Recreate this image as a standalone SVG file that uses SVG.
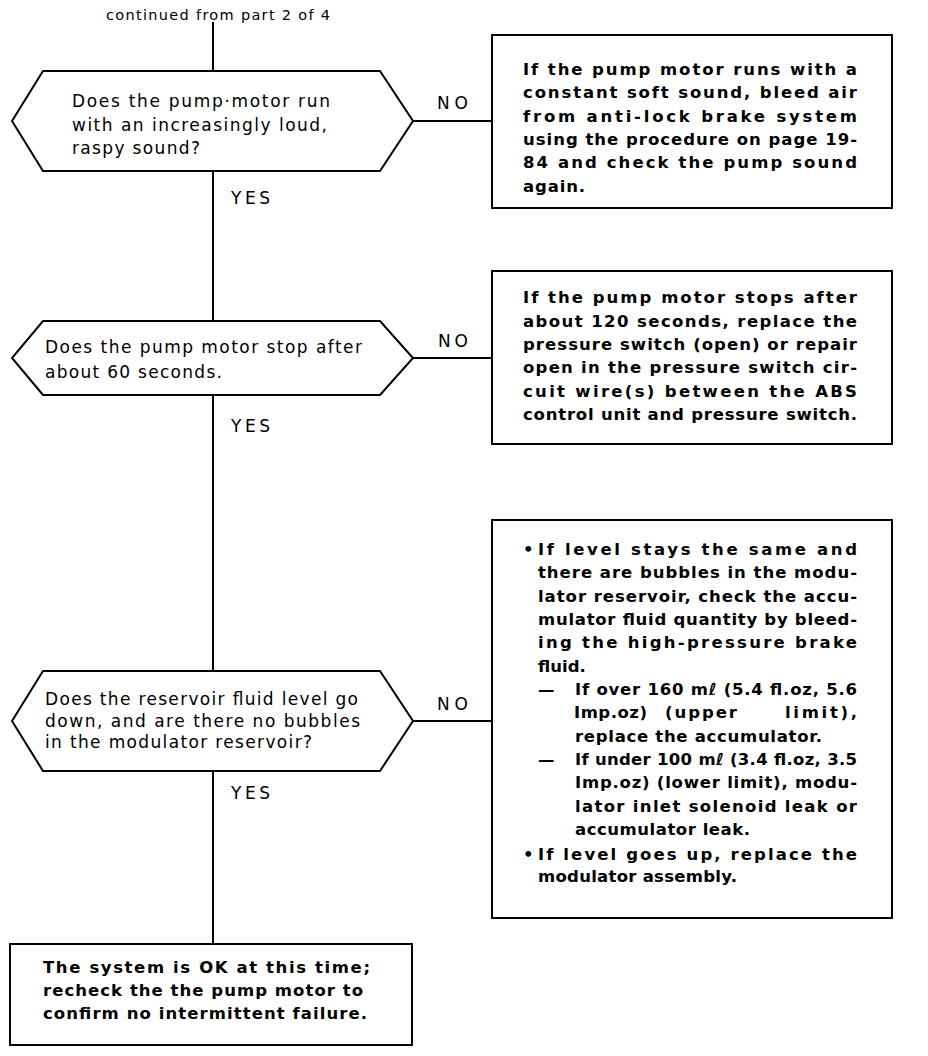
<svg xmlns="http://www.w3.org/2000/svg" width="928" height="1056" viewBox="0 0 928 1056">
<style>
.shape{fill:#fff;stroke:#000;stroke-width:2}
.conn{stroke:#000;stroke-width:2;fill:none}
.q{font-family:"DejaVu Sans","Liberation Sans",Arial,sans-serif;font-size:17px;fill:#000}
.b{font-family:"DejaVu Sans","Liberation Sans",Arial,sans-serif;font-size:16.5px;font-weight:bold;fill:#000}
.lbl{font-family:"DejaVu Sans","Liberation Sans",Arial,sans-serif;font-size:17px;fill:#000}
.sm{font-family:"DejaVu Sans","Liberation Sans",Arial,sans-serif;font-size:14.5px;fill:#000}
</style>
<rect width="928" height="1056" fill="#fff"/>
<g id="connectors">
<line class="conn" x1="213" y1="22" x2="213" y2="71"/>
<line class="conn" x1="213" y1="171" x2="213" y2="321"/>
<line class="conn" x1="213" y1="395" x2="213" y2="671"/>
<line class="conn" x1="213" y1="771" x2="213" y2="944"/>
<line class="conn" x1="413" y1="121" x2="492" y2="121"/>
<line class="conn" x1="413" y1="358" x2="492" y2="358"/>
<line class="conn" x1="413" y1="721" x2="492" y2="721"/>
<text class="sm" x="106" y="20" textLength="224" lengthAdjust="spacing">continued from part 2 of 4</text>
<text class="lbl" x="437" y="109" textLength="31" lengthAdjust="spacing">NO</text>
<text class="lbl" x="438" y="347" textLength="30" lengthAdjust="spacing">NO</text>
<text class="lbl" x="437" y="710" textLength="31" lengthAdjust="spacing">NO</text>
<text class="lbl" x="231" y="204" textLength="39" lengthAdjust="spacing">YES</text>
<text class="lbl" x="231" y="432" textLength="39" lengthAdjust="spacing">YES</text>
<text class="lbl" x="231" y="799" textLength="39" lengthAdjust="spacing">YES</text>
</g>
<g id="q1">
<polygon class="shape" points="43,71 380,71 413,121 380,171 43,171 12,121"/>
<text class="q" x="72" y="107" textLength="258" lengthAdjust="spacing">Does the pump·motor run</text>
<text class="q" x="72" y="131" textLength="255" lengthAdjust="spacing">with an increasingly loud,</text>
<text class="q" x="72" y="154" textLength="128" lengthAdjust="spacing">raspy sound?</text>
</g>
<g id="a1">
<rect class="shape" x="492" y="35" width="400" height="173"/>
<text class="b" x="523" y="75" textLength="334" lengthAdjust="spacing">If the pump motor runs with a</text>
<text class="b" x="523" y="98" textLength="334" lengthAdjust="spacing">constant soft sound, bleed air</text>
<text class="b" x="523" y="121.5" textLength="334" lengthAdjust="spacing">from anti-lock brake system</text>
<text class="b" x="523" y="145" textLength="334" lengthAdjust="spacing">using the procedure on page 19-</text>
<text class="b" x="523" y="168" textLength="334" lengthAdjust="spacing">84 and check the pump sound</text>
<text class="b" x="523" y="192" textLength="62" lengthAdjust="spacing">again.</text>
</g>
<g id="q2">
<polygon class="shape" points="43,321 380,321 413,358 380,395 43,395 12,358"/>
<text class="q" x="45" y="353" textLength="317" lengthAdjust="spacing">Does the pump motor stop after</text>
<text class="q" x="45" y="378" textLength="177" lengthAdjust="spacing">about 60 seconds.</text>
</g>
<g id="a2">
<rect class="shape" x="492" y="271" width="400" height="173"/>
<text class="b" x="523" y="303" textLength="334" lengthAdjust="spacing">If the pump motor stops after</text>
<text class="b" x="523" y="327" textLength="334" lengthAdjust="spacing">about 120 seconds, replace the</text>
<text class="b" x="523" y="350" textLength="334" lengthAdjust="spacing">pressure switch (open) or repair</text>
<text class="b" x="523" y="373" textLength="334" lengthAdjust="spacing">open in the pressure switch cir-</text>
<text class="b" x="523" y="397" textLength="334" lengthAdjust="spacing">cuit wire(s) between the ABS</text>
<text class="b" x="523" y="420" textLength="334" lengthAdjust="spacing">control unit and pressure switch.</text>
</g>
<g id="q3">
<polygon class="shape" points="43,671 380,671 413,721 380,771 43,771 12,721"/>
<text class="q" x="45" y="705" textLength="313" lengthAdjust="spacing">Does the reservoir fluid level go</text>
<text class="q" x="45" y="727" textLength="315" lengthAdjust="spacing">down, and are there no bubbles</text>
<text class="q" x="45" y="748" textLength="267" lengthAdjust="spacing">in the modulator reservoir?</text>
</g>
<g id="a3">
<rect class="shape" x="492" y="520" width="400" height="398"/>
<text class="b" x="523" y="555">•</text>
<text class="b" x="538" y="555" textLength="319" lengthAdjust="spacing">If level stays the same and</text>
<text class="b" x="538" y="578" textLength="319" lengthAdjust="spacing">there are bubbles in the modu-</text>
<text class="b" x="538" y="602" textLength="319" lengthAdjust="spacing">lator reservoir, check the accu-</text>
<text class="b" x="538" y="625" textLength="319" lengthAdjust="spacing">mulator fluid quantity by bleed-</text>
<text class="b" x="538" y="648" textLength="319" lengthAdjust="spacing">ing the high-pressure brake</text>
<text class="b" x="538" y="672">fluid.</text>
<text class="b" x="538" y="695">—</text>
<text class="b" x="575" y="695" textLength="282" lengthAdjust="spacing">If over 160 mℓ (5.4 fl.oz, 5.6</text>
<text class="b" x="574" y="718" textLength="73" lengthAdjust="spacing">Imp.oz)</text>
<text class="b" x="665" y="718" textLength="72" lengthAdjust="spacing">(upper</text>
<text class="b" x="785" y="718" textLength="72" lengthAdjust="spacing">limit),</text>
<text class="b" x="575" y="742" textLength="247" lengthAdjust="spacing">replace the accumulator.</text>
<text class="b" x="538" y="765">—</text>
<text class="b" x="575" y="765" textLength="282" lengthAdjust="spacing">If under 100 mℓ (3.4 fl.oz, 3.5</text>
<text class="b" x="575" y="788" textLength="282" lengthAdjust="spacing">Imp.oz) (lower limit), modu-</text>
<text class="b" x="575" y="812" textLength="282" lengthAdjust="spacing">lator inlet solenoid leak or</text>
<text class="b" x="575" y="835" textLength="175" lengthAdjust="spacing">accumulator leak.</text>
<text class="b" x="523" y="860">•</text>
<text class="b" x="538" y="860" textLength="319" lengthAdjust="spacing">If level goes up, replace the</text>
<text class="b" x="538" y="882" textLength="199" lengthAdjust="spacing">modulator assembly.</text>
</g>
<g id="end">
<rect class="shape" x="10" y="944" width="402" height="101"/>
<text class="b" x="43" y="973" textLength="327" lengthAdjust="spacing">The system is OK at this time;</text>
<text class="b" x="43" y="996" textLength="320" lengthAdjust="spacing">recheck the the pump motor to</text>
<text class="b" x="43" y="1019" textLength="324" lengthAdjust="spacing">confirm no intermittent failure.</text>
</g>
</svg>
